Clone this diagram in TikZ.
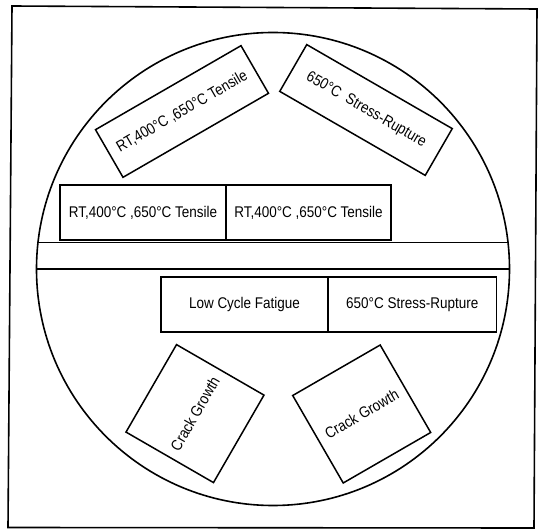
\documentclass[tikz,border=0pt]{standalone}
\usepackage{fontspec}
\setmainfont[FakeStretch=0.87]{Liberation Sans}
\begin{document}
\begin{tikzpicture}[x=1pt,y=-1pt,
  box/.style={draw,line width=1.5pt,inner sep=0pt,font=\fontsize{15.5}{18}\selectfont},
  thinbox/.style={box,line width=1.1pt}]
\useasboundingbox (0,0) rectangle (544,529);
% frame
\draw[line width=1.6pt] (12,6) -- (537,9) -- (534,528) -- (8,527.5) -- cycle;
% specimen disc
\draw[line width=1.6pt] (273,269) circle[radius=236.5];
% cut band
\draw[line width=1.3pt] (38,242.5) -- (508,242.5);
\draw[line width=1.3pt] (36.5,269) -- (509.5,269);
% upper row
\node[box,minimum width=166pt,minimum height=55pt] (t1) at (143,212.5) {RT,400°C ,650°C Tensile};
\node[box,minimum width=165pt,minimum height=55pt] (t2) at (308.5,212.5) {RT,400°C ,650°C Tensile};
% lower row
\node[thinbox,minimum width=167pt,minimum height=55pt] (b1) at (244.5,304.5) {Low Cycle Fatigue};
\node[box,line width=1.8pt,minimum width=168.5pt,minimum height=55pt] (b2) at (412.25,304.5) {650°C Stress-Rupture};
% rotated specimens
\node[box,rotate=30,minimum width=168pt,minimum height=55pt] (r1) at (182,111.5) {RT,400°C ,650°C Tensile};
\node[box,rotate=-30,minimum width=168pt,minimum height=54pt] (r2) at (366,110) {650°C\ \ Stress-Rupture};
\node[box,rotate=60,minimum size=101pt] (c1) at (195,413.6) {Crack Growth};
\node[box,rotate=30,minimum size=101pt] (c2) at (361.7,414) {Crack Growth};
\end{tikzpicture}
\end{document}
